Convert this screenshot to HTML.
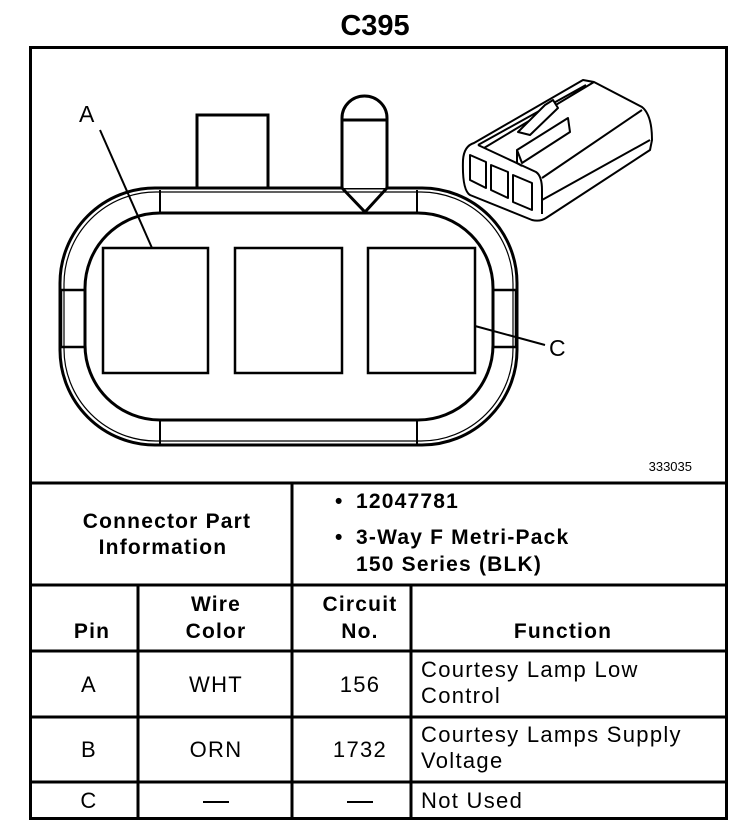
<!DOCTYPE html>
<html><head><meta charset="utf-8"><style>
html,body{margin:0;padding:0;background:#fff;}
svg{display:block;}
text{font-family:"Liberation Sans",Arial,sans-serif;fill:#000;}
</style></head><body>
<svg width="736" height="840" viewBox="0 0 736 840" xmlns="http://www.w3.org/2000/svg">
<text x="375" y="35" font-size="29" font-weight="bold" text-anchor="middle">C395</text>
<g stroke="#000" stroke-width="3" fill="none">
<rect x="30.5" y="47.5" width="696" height="771"/>
<line x1="30" y1="483" x2="727" y2="483"/>
<line x1="30" y1="585" x2="727" y2="585"/>
<line x1="30" y1="651" x2="727" y2="651"/>
<line x1="30" y1="717" x2="727" y2="717"/>
<line x1="30" y1="782" x2="727" y2="782"/>
<line x1="292" y1="483" x2="292" y2="818"/>
<line x1="138" y1="585" x2="138" y2="818"/>
<line x1="411" y1="585" x2="411" y2="818"/>
</g>
<g stroke="#000" fill="none" stroke-width="3">
<rect x="60" y="188" width="457" height="257" rx="95" ry="95"/>
<rect x="85" y="213" width="408" height="207" rx="75" ry="75"/>
<rect x="197" y="115" width="71" height="73" fill="#fff"/>
<path d="M342 188 L342 118 A22.5 22 0 0 1 387 118 L387 188" fill="#fff"/>
<line x1="342" y1="120" x2="387" y2="120"/>
<path d="M342 188 L365 212 L387 188"/>
<rect x="103" y="248" width="105" height="125" stroke-width="2.5"/>
<rect x="235" y="248" width="107" height="125" stroke-width="2.5"/>
<rect x="368" y="248" width="107" height="125" stroke-width="2.5"/>
</g>
<g stroke="#000" stroke-width="2" fill="none">
<rect x="64" y="192" width="449" height="249" rx="92" ry="92" stroke-width="1.2"/>
<line x1="160" y1="190" x2="160" y2="213"/><line x1="417" y1="190" x2="417" y2="213"/>
<line x1="160" y1="420" x2="160" y2="444"/><line x1="417" y1="420" x2="417" y2="444"/>
<rect x="61" y="290" width="24" height="57" stroke-width="2.5"/>
<rect x="493" y="290" width="23" height="57" stroke-width="2.5"/>
<line x1="100" y1="130" x2="152" y2="248"/>
<line x1="475" y1="326" x2="545" y2="345"/>
</g>
<text x="79" y="122" font-size="23">A</text>
<text x="549" y="356" font-size="23">C</text>
<text x="692" y="471" font-size="13" text-anchor="end">333035</text>
<g stroke="#000" stroke-width="2" fill="#fff" stroke-linejoin="round">
<path d="M474 143 L583 80 L594 82 L642 107 Q652 115 652 140 L650 150 L546 218 Q540 222 532 220 L470 195 Q462 190 463 160 Q464 146 474 143 Z"/>
<path d="M478 145 L536 172 Q542 176 542 190 L542 214" fill="none"/>
<path d="M478 145 L586 85 M594 82 L484 148" fill="none"/>
<path d="M542 178 L642 110 M542 200 L650 140" fill="none"/>
<path d="M470 155 L486 162 L486 188 L470 180 Z"/>
<path d="M491 165 L508 172 L508 198 L491 190 Z"/>
<path d="M513 175 L532 183 L532 210 L513 202 Z"/>
<path d="M517 150 L568 118 L570 132 L522 163 Z"/>
<path d="M517 150 L517 163 L522 166" fill="none"/>
<path d="M518 132 L545 105 L553 100 L558 108 L530 135 Z"/>
</g>
<g font-weight="bold" font-size="21" letter-spacing="1.2">
<text x="167" y="528" text-anchor="middle">Connector Part</text>
<text x="163" y="554" text-anchor="middle">Information</text>
<text x="335" y="508">•</text><text x="356" y="508">12047781</text>
<text x="335" y="544">•</text><text x="356" y="544">3-Way F Metri-Pack</text>
<text x="356" y="571">150 Series (BLK)</text>
<text x="92" y="638" text-anchor="middle">Pin</text>
<text x="216" y="611" text-anchor="middle">Wire</text>
<text x="216" y="638" text-anchor="middle">Color</text>
<text x="360" y="611" text-anchor="middle">Circuit</text>
<text x="360" y="638" text-anchor="middle">No.</text>
<text x="563" y="638" text-anchor="middle">Function</text>
</g>
<g font-size="22" letter-spacing="1.3">
<text x="89" y="692" text-anchor="middle">A</text>
<text x="216" y="692" text-anchor="middle">WHT</text>
<text x="360" y="692" text-anchor="middle">156</text>
<text x="421" y="677">Courtesy Lamp Low</text>
<text x="421" y="703">Control</text>
<text x="89" y="757" text-anchor="middle">B</text>
<text x="216" y="757" text-anchor="middle">ORN</text>
<text x="360" y="757" text-anchor="middle">1732</text>
<text x="421" y="742">Courtesy Lamps Supply</text>
<text x="421" y="768">Voltage</text>
<text x="89" y="808" text-anchor="middle">C</text>
<text x="421" y="808">Not Used</text>
</g>
<g stroke="#000" stroke-width="2">
<line x1="203" y1="802" x2="229" y2="802"/>
<line x1="347" y1="802" x2="373" y2="802"/>
</g>
</svg>
</body></html>
